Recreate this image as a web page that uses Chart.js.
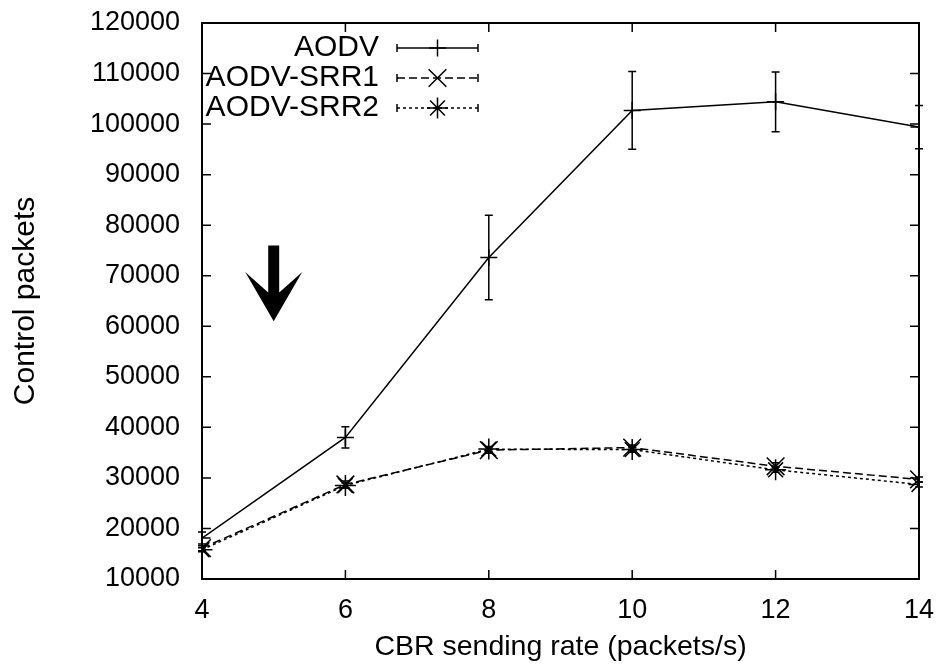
<!DOCTYPE html>
<html>
<head>
<meta charset="utf-8">
<script src="https://cdn.jsdelivr.net/npm/chart.js@4.4.0/dist/chart.umd.min.js"></script>
<style>
  html, body { margin: 0; background: #fff; }
  #wrap { width: 941px; height: 671px; }
</style>
</head>
<body>
<div id="wrap"><canvas id="ctrlChart"></canvas></div>
<script>
// CBR sending rate (packets/s)
const rates = [4, 6, 8, 10, 12, 14];

// control packet counts, mean and half-width of the error bar
const aodv = [18100, 38000, 73600, 102700, 104400, 99400];
const aodvErr = [1200, 2100, 8350, 7700, 5900, 4300];
const srr1 = [16100, 28700, 35500, 36000, 32300, 29700];
const srr1Err = [500, 700, 600, 500, 700, 500];
const srr2 = [15800, 28500, 35700, 35600, 31600, 28700];
const srr2Err = [400, 500, 500, 500, 500, 500];

const yTicks = [10000, 20000, 30000, 40000, 50000, 60000, 70000, 80000, 90000, 100000, 110000, 120000];

// arrow marker drawn inside the plot (data units)
const arrowAt = { x: 5, from: 76000, to: 61000 };

const FONT = "'Liberation Sans', Arial, Helvetica, sans-serif";
Chart.defaults.font.family = FONT;
Chart.defaults.color = '#000';

const toPoints = (vals) => vals.map((v, i) => ({ x: rates[i], y: v }));

// gnuplot-style frame with inward ticks on all four sides
const frameTicks = {
  id: 'frameTicks',
  beforeDatasetsDraw(chart) {
    const { ctx, chartArea: a, scales: { x, y } } = chart;
    const len = 9;
    ctx.save();
    ctx.strokeStyle = '#000';
    ctx.lineWidth = 1.5;
    ctx.beginPath();
    x.ticks.forEach(t => {
      const px = x.getPixelForValue(t.value);
      ctx.moveTo(px, a.bottom); ctx.lineTo(px, a.bottom - len);
      ctx.moveTo(px, a.top); ctx.lineTo(px, a.top + len);
    });
    y.ticks.forEach(t => {
      const py = y.getPixelForValue(t.value);
      ctx.moveTo(a.left, py); ctx.lineTo(a.left + len, py);
      ctx.moveTo(a.right, py); ctx.lineTo(a.right - len, py);
    });
    ctx.stroke();
    ctx.lineWidth = 2;
    ctx.strokeRect(a.left, a.top, a.right - a.left, a.bottom - a.top);
    ctx.restore();
  }
};

// vertical error bars with small caps
const errorBars = {
  id: 'errorBars',
  afterDatasetsDraw(chart) {
    const { ctx, scales: { x, y } } = chart;
    const cap = 4;
    ctx.save();
    ctx.strokeStyle = '#000';
    ctx.lineWidth = 1.5;
    chart.data.datasets.forEach(ds => {
      if (!ds.errors) return;
      ds.data.forEach((p, i) => {
        const px = x.getPixelForValue(p.x);
        const top = y.getPixelForValue(p.y + ds.errors[i]);
        const bot = y.getPixelForValue(p.y - ds.errors[i]);
        ctx.beginPath();
        ctx.moveTo(px, top); ctx.lineTo(px, bot);
        ctx.moveTo(px - cap, top); ctx.lineTo(px + cap, top);
        ctx.moveTo(px - cap, bot); ctx.lineTo(px + cap, bot);
        ctx.stroke();
      });
    });
    ctx.restore();
  }
};

// key in the upper left: right-aligned label, then a sample line with caps and marker
const keyBox = {
  id: 'keyBox',
  afterDraw(chart) {
    const { ctx, chartArea: a } = chart;
    const textRight = a.left + 177;
    const x0 = a.left + 195, x1 = a.left + 276;
    const top = a.top + 25, step = 30;
    ctx.save();
    ctx.font = `30px ${FONT}`;
    ctx.fillStyle = '#000';
    ctx.strokeStyle = '#000';
    ctx.lineWidth = 1.5;
    ctx.textAlign = 'right';
    ctx.textBaseline = 'middle';
    chart.data.datasets.forEach((ds, i) => {
      const yy = top + i * step;
      ctx.fillText(ds.label, textRight, yy);
      ctx.setLineDash(ds.borderDash || []);
      ctx.beginPath();
      ctx.moveTo(x0, yy); ctx.lineTo(x1, yy);
      ctx.stroke();
      ctx.setLineDash([]);
      ctx.beginPath();
      ctx.moveTo(x0, yy - 4); ctx.lineTo(x0, yy + 4);
      ctx.moveTo(x1, yy - 4); ctx.lineTo(x1, yy + 4);
      ctx.stroke();
      Chart.helpers.drawPoint(ctx, {
        pointStyle: ds.pointStyle, radius: ds.pointRadius, borderWidth: 1.5, rotation: 0
      }, (x0 + x1) / 2, yy);
    });
    ctx.restore();
  }
};

// thick downward arrow
const arrowMark = {
  id: 'arrowMark',
  afterDatasetsDraw(chart) {
    const { ctx, scales: { x, y } } = chart;
    const cx = x.getPixelForValue(arrowAt.x);
    const y0 = y.getPixelForValue(arrowAt.from);
    const tip = y.getPixelForValue(arrowAt.to);
    const shaft = 5.5, wing = 28.5;
    const head = tip - y0;
    ctx.save();
    ctx.fillStyle = '#000';
    ctx.beginPath();
    ctx.moveTo(cx - shaft, y0);
    ctx.lineTo(cx + shaft, y0);
    ctx.lineTo(cx + shaft, y0 + head * 0.62);
    ctx.lineTo(cx + wing, y0 + head * 0.35);
    ctx.lineTo(cx, tip);
    ctx.lineTo(cx - wing, y0 + head * 0.35);
    ctx.lineTo(cx - shaft, y0 + head * 0.62);
    ctx.closePath();
    ctx.fill();
    ctx.restore();
  }
};

const ctx = document.getElementById('ctrlChart').getContext('2d');

const ctrlChart = new Chart(ctx, {
  type: 'line',
  data: {
    datasets: [{
      label: 'AODV',
      data: toPoints(aodv),
      errors: aodvErr,
      borderColor: '#000',
      borderWidth: 1.5,
      pointStyle: 'cross',
      pointRadius: 8.5,
      pointBorderWidth: 1.5,
      pointBorderColor: '#000',
      fill: false,
      tension: 0
    }, {
      label: 'AODV-SRR1',
      data: toPoints(srr1),
      errors: srr1Err,
      borderColor: '#000',
      borderWidth: 1.5,
      borderDash: [8, 4],
      pointStyle: 'crossRot',
      pointRadius: 12.5,
      pointBorderWidth: 1.5,
      pointBorderColor: '#000',
      fill: false,
      tension: 0
    }, {
      label: 'AODV-SRR2',
      data: toPoints(srr2),
      errors: srr2Err,
      borderColor: '#000',
      borderWidth: 1.5,
      borderDash: [3, 3],
      pointStyle: 'star',
      pointRadius: 10.5,
      pointBorderWidth: 1.5,
      pointBorderColor: '#000',
      fill: false,
      tension: 0
    }]
  },
  options: {
    responsive: true,
    maintainAspectRatio: false,
    animation: false,
    layout: {
      padding: { top: 23, right: 22, bottom: 0, left: 0 }
    },
    plugins: {
      legend: { display: false },
      tooltip: { enabled: false }
    },
    scales: {
      x: {
        type: 'linear',
        min: 4,
        max: 14,
        afterFit: (scale) => {
          scale.height = 92;
          scale.paddingLeft = 0;
          scale.paddingRight = 0;
        },
        ticks: {
          stepSize: 2,
          padding: 15,
          maxRotation: 0,
          font: { size: 27 }
        },
        grid: { display: false, drawTicks: false },
        border: { display: false },
        title: {
          display: true,
          text: 'CBR sending rate (packets/s)',
          font: { size: 28.5 },
          padding: { top: 0, bottom: 7 }
        }
      },
      y: {
        type: 'linear',
        min: 10000,
        max: 120000,
        afterFit: (scale) => {
          scale.width = 202;
          scale.paddingTop = 0;
          scale.paddingBottom = 0;
        },
        afterBuildTicks: (scale) => { scale.ticks = yTicks.map(v => ({ value: v })); },
        ticks: {
          padding: 22,
          font: { size: 27 },
          callback: (value) => String(value)
        },
        grid: { display: false, drawTicks: false },
        border: { display: false },
        title: {
          display: true,
          text: 'Control packets',
          font: { size: 30 },
          padding: { top: 8, bottom: 0 }
        }
      }
    }
  },
  plugins: [frameTicks, errorBars, arrowMark, keyBox]
});
</script>
</body>
</html>
